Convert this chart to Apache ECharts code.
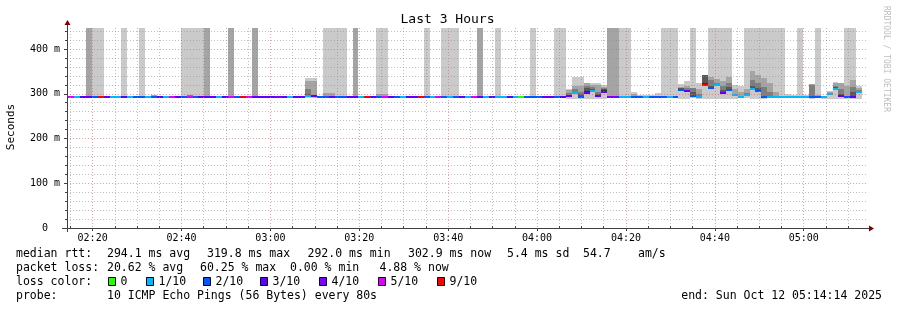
<!DOCTYPE html>
<html><head><meta charset="utf-8">
<script src="https://cdn.jsdelivr.net/npm/echarts@6/dist/echarts.min.js"></script>
<style>html,body{margin:0;padding:0;background:#fff}#c{width:897px;height:310px}</style>
</head><body><div id="c"></div>
<script>
// ---------------- data ----------------
const title = 'Last 3 Hours';
const yAxisName = 'Seconds';
const sideText = 'RRDTOOL / TOBI OETIKER';
const stepSeconds = 80;
const firstStepStart = '02:14:28.5';   // start of first 80s step
const axisStart = '02:14:14';
const axisEnd = '05:14:14';
const xLabelTimes = ['02:20','02:40','03:00','03:20','03:40','04:00','04:20','04:40','05:00'];
const yLabelValues = [0, 100, 200, 300, 400];
const yMax = 447;
const OFF = 1000; // ping above the chart top

const medianRtt = [
 293.0,292.6,292.8,293.1,292.9,293.4,292.7,292.5,292.6,293.0,
 292.4,292.8,292.9,292.3,293.2,293.0,292.4,293.5,292.9,292.7,
 293.6,292.8,293.0,292.9,293.1,292.5,293.0,293.3,292.6,293.8,
 293.2,293.0,292.9,293.0,292.8,293.1,293.0,292.4,293.0,293.2,
 294.5,294.0,292.8,293.0,293.2,292.7,292.6,293.1,293.0,292.5,
 293.9,293.0,292.8,293.4,293.0,292.7,292.5,293.0,293.0,293.8,
 292.8,292.4,293.5,292.9,292.5,292.8,293.0,292.5,293.4,293.0,
 292.5,293.0,292.4,292.5,293.0,292.4,292.2,292.7,292.8,292.6,
 293.0,293.1,292.8,293.0,294.0,302.0,293.0,301.0,307.0,294.5,
 305.0,293.5,292.8,292.3,292.4,293.0,292.8,292.5,292.7,292.8,
 292.9,292.5,292.8,308.0,307.0,294.0,292.5,319.8,312.0,319.0,
 301.0,308.5,296.5,292.5,297.0,311.0,306.0,293.5,292.3,292.2,
 292.2,292.2,292.3,292.2,292.4,292.8,292.6,292.4,299.0,311.0,
 296.0,292.6,292.4,303.0,null];

const lossLevel = [
 5,1,3,3,2,9,3,1,1,3,
 1,2,2,1,2,3,1,5,3,2,
 5,2,3,3,3,1,3,5,2,9,
 5,3,3,3,3,4,3,1,3,3,
 1,3,2,2,3,2,2,3,3,1,
 9,3,2,5,3,2,1,3,3,9,
 2,1,5,2,1,2,3,1,5,3,
 1,3,1,1,3,1,0,2,2,2,
 3,3,2,3,3,1,2,3,1,3,
 3,4,4,1,1,2,2,1,2,2,
 2,1,2,2,3,2,1,9,2,1,
 3,2,1,1,1,1,2,2,1,1,
 1,1,1,1,1,2,2,1,1,1,
 3,2,3,1,null];

const n = null;
// smoke bands: upper edge of each band (lightest -> darkest)
const smoke1 = [
 n,n,n,OFF,OFF,OFF,n,n,n,OFF,
 n,n,OFF,n,n,n,n,n,n,OFF,
 OFF,OFF,OFF,OFF,n,n,n,OFF,n,n,
 n,OFF,n,n,n,n,n,n,n,n,
 335,335,n,OFF,OFF,OFF,OFF,n,OFF,n,
 n,n,OFF,OFF,n,n,n,n,n,n,
 OFF,n,n,OFF,OFF,OFF,n,n,n,OFF,
 n,n,OFF,n,n,n,n,n,OFF,n,
 n,n,OFF,OFF,311,337,337,325,325,325,
 320,OFF,OFF,OFF,OFF,303,297,298,298,301,
 OFF,OFF,OFF,321,328,OFF,323,342,OFF,OFF,
 OFF,OFF,320,318,OFF,OFF,OFF,OFF,OFF,OFF,
 OFF,300,297,OFF,298,321,OFF,296,306,327,
 325,OFF,OFF,318,n];
const smoke2 = [
 n,n,n,OFF,n,n,n,295,295,n,
 n,n,n,n,297,n,n,n,n,n,
 n,n,n,OFF,n,n,296,OFF,n,n,
 n,OFF,n,n,n,n,n,n,295,n,
 328,328,n,302,302,n,n,n,OFF,n,
 n,n,300,300,n,n,295,295,n,n,
 n,n,n,n,n,n,n,n,n,OFF,
 n,n,n,n,n,n,n,295,295,n,
 296,296,n,n,309,317,317,325,320,319,
 316,OFF,OFF,n,n,300,n,n,n,n,
 n,n,n,316,317,n,310,342,338,332,
 329,338,310,305,310,351,342,336,325,305,
 n,n,n,n,n,321,298,n,304,325,
 325,318,331,313,n];
const smoke3 = [
 n,n,n,n,n,n,n,n,n,n,
 n,n,n,n,n,n,n,n,n,n,
 297,n,n,n,n,n,n,n,n,n,
 n,n,n,n,n,n,n,n,n,n,
 310,n,n,n,n,n,n,n,n,n,
 n,n,n,n,n,n,n,n,n,n,
 n,n,n,n,n,n,n,n,n,n,
 n,n,n,n,n,n,n,n,n,n,
 n,n,n,n,302,310,305,318,315,305,
 312,n,n,n,n,n,n,n,n,n,
 n,n,n,313,312,313,300,342,330,325,
 318,325,300,n,302,330,325,315,305,n,
 n,n,n,n,n,319,n,n,n,318,
 310,n,315,308,n];
const smoke4 = [
 n,n,n,n,n,n,n,n,n,n,
 n,n,n,n,n,n,n,n,n,n,
 n,n,n,n,n,n,n,n,n,n,
 n,n,n,n,n,n,n,n,n,n,
 300,n,n,n,n,n,n,n,n,n,
 n,n,n,n,n,n,n,n,n,n,
 n,n,n,n,n,n,n,n,n,n,
 n,n,n,n,n,n,n,n,n,n,
 n,n,n,n,n,305,300,312,310,300,
 310,n,n,n,n,n,n,n,n,n,
 n,n,n,312,309,305,n,342,318,322,
 308,315,n,n,n,318,312,n,n,n,
 n,n,n,n,n,n,n,n,n,315,
 300,n,305,n,n];
const smoke5 = [
 n,n,n,n,n,n,n,n,n,n,
 n,n,n,n,n,n,n,n,n,n,
 n,n,n,n,n,n,n,n,n,n,
 n,n,n,n,n,n,n,n,n,n,
 n,n,n,n,n,n,n,n,n,n,
 n,n,n,n,n,n,n,n,n,n,
 n,n,n,n,n,n,n,n,n,n,
 n,n,n,n,n,n,n,n,n,n,
 n,n,n,n,n,n,n,306,n,n,
 308,n,n,n,n,n,n,n,n,n,
 n,n,n,310,n,n,n,325,n,n,
 n,n,n,n,n,n,n,n,n,n,
 n,n,n,n,n,n,n,n,n,313,
 n,n,n,n,n];
// lower edge of the smoke
const smokeLow = [
 291.5,291.5,291.5,291.5,291.5,291.5,291.5,291.5,291.5,291.5,
 291.5,291.5,291.5,291.5,291.5,291.5,291.5,291.5,291.5,291.5,
 291.5,291.5,291.5,291.5,291.5,291.5,291.5,291.5,291.5,291.5,
 291.5,291.5,291.5,291.5,291.5,291.5,291.5,291.5,291.5,291.5,
 291.0,291.0,291.5,291.5,291.5,291.5,291.5,291.5,291.5,291.5,
 291.5,291.5,291.5,291.5,291.5,291.5,291.5,291.5,291.5,291.5,
 291.5,291.5,291.5,291.5,291.5,291.5,291.5,291.5,291.5,291.5,
 291.5,291.5,291.5,291.5,291.5,291.5,291.5,291.5,291.5,291.5,
 291.5,291.5,291.5,291.5,289,288,288,288,289,288,
 289,291,291,291,291,290,290,290,290,290,
 291,291,291,289,288,290,289,288,288,288,
 288,288,289,290,290,288,288,289,290,290,
 290,290,290,290,290,289,290,289,289,288,
 288,289,289,288,null];

const lossKeys = [0, 1, 2, 3, 4, 5, 9];
const lossLabels = ['0', '1/10', '2/10', '3/10', '4/10', '5/10', '9/10'];
const lossColors = ['#26ff00', '#00b8ff', '#0059ff', '#5e00ff', '#7e00ff', '#dd00ff', '#ff0000'];
const smokeColors = ['#cacaca', '#a4a4a4', '#7e7e7e', '#585858', '#323232'];

const legendRtt = [['median rtt:', 16], ['294.1 ms avg', 107], ['319.8 ms max', 207], ['292.0 ms min', 307.5], ['302.9 ms now', 408], ['5.4 ms sd', 507], ['54.7', 583], ['am/s', 638]];
const legendLoss = [['packet loss:', 16], ['20.62 % avg', 107], ['60.25 % max', 200], ['0.00 % min', 290], ['4.88 % now', 379.5]];
const probeText = '10 ICMP Echo Pings (56 Bytes) every 80s';
const endText = 'end: Sun Oct 12 05:14:14 2025';

// ---------------- helpers ----------------
function toMin(s) { const p = s.split(':').map(Number); return p[0] * 60 + p[1] + (p[2] || 0) / 60; }
function fmt(v) { const h = Math.floor(v / 60), m = Math.round(v - h * 60); return String(h).padStart(2, '0') + ':' + String(m).padStart(2, '0'); }

const G = { left: 67, top: 28, width: 800, height: 200 };
const xMin = toMin(axisStart), xMax = toMin(axisEnd);
const stepMin = stepSeconds / 60, t0 = toMin(firstStepStart);
const majorX = xLabelTimes.map(toMin);
const minorX = []; for (let v = Math.ceil(xMin / 5) * 5; v <= xMax; v += 5) if (majorX.indexOf(v) < 0) minorX.push(v);
const minorY = []; for (let v = 20; v < yMax; v += 20) if (v % 100) minorY.push(v);

const data = medianRtt.map((m, k) => [t0 + k * stepMin, t0 + (k + 1) * stepMin, m, lossLevel[k],
  smoke1[k], smoke2[k], smoke3[k], smoke4[k], smoke5[k], smokeLow[k]]);

function num(v) { return (v === null || v === undefined || isNaN(v)) ? NaN : +v; }

function renderStep(params, api) {
  const cs = params.coordSys;
  const a = api.value(0), b = api.value(1);
  let xa = Math.round(api.coord([a, 0])[0]), xb = Math.round(api.coord([b, 0])[0]);
  xa = Math.max(xa, cs.x); xb = Math.min(xb, cs.x + cs.width);
  if (xb <= xa) return;
  const med = num(api.value(2));
  if (isNaN(med)) return;
  const yOf = v => Math.round(api.coord([a, Math.min(v, yMax)])[1]);
  const kids = [];
  const low = num(api.value(9));
  for (let i = 0; i < 5; i++) {
    const top = num(api.value(4 + i));
    if (isNaN(top)) continue;
    const base = i === 0 ? low : med;
    const y1 = yOf(top), y0 = yOf(base);
    kids.push({ type: 'rect', shape: { x: xa, y: y1, width: xb - xa, height: y0 - y1 }, style: { fill: smokeColors[i] } });
  }
  const lc = lossColors[lossKeys.indexOf(api.value(3))] || '#000';
  const ym = yOf(med);
  kids.push({ type: 'rect', shape: { x: xa, y: ym - 1, width: xb - xa, height: 2 }, style: { fill: lc } });
  return { type: 'group', children: kids };
}

const FONT = '"DejaVu Sans Mono", monospace';
const gridMinor = { show: true, lineStyle: { color: 'rgba(140,140,140,0.55)', width: 1, type: [1, 2] } };
const gridMajor = { show: true, lineStyle: { color: 'rgba(225,100,100,0.6)', width: 1, type: [1, 2] } };

const gfx = [];
// axis lines + arrows
const x0 = G.left, yb = G.top + G.height, xr = G.left + G.width;
gfx.push({ type: 'line', shape: { x1: x0 - 5, y1: yb + 0.5, x2: xr + 2, y2: yb + 0.5 }, style: { stroke: '#404040', lineWidth: 1 }, z: 50 });
gfx.push({ type: 'line', shape: { x1: x0 + 0.5, y1: yb + 4, x2: x0 + 0.5, y2: G.top - 3 }, style: { stroke: '#404040', lineWidth: 1 }, z: 50 });
gfx.push({ type: 'polygon', shape: { points: [[xr + 2, yb - 2.5], [xr + 7, yb + 0.5], [xr + 2, yb + 3.5]] }, style: { fill: '#800000' }, z: 50 });
gfx.push({ type: 'polygon', shape: { points: [[x0 - 2.5, G.top - 3], [x0 + 0.5, G.top - 8], [x0 + 3.5, G.top - 3]] }, style: { fill: '#800000' }, z: 50 });
// title and side texts
gfx.push({ type: 'text', x: 447.5, y: 20, style: { text: title, font: '13px ' + FONT, fill: '#000', align: 'center', verticalAlign: 'middle' } });
gfx.push({ type: 'text', x: 11, y: 127, rotation: Math.PI / 2, style: { text: yAxisName, font: '11px ' + FONT, fill: '#000', align: 'center', verticalAlign: 'middle' } });
gfx.push({ type: 'text', x: 886, y: 59, rotation: -Math.PI / 2, style: { text: sideText, font: '8px ' + FONT, fill: '#bdbdbd', align: 'center', verticalAlign: 'middle' } });
// legend
const LF = '11.5px ' + FONT;
legendRtt.forEach(([t, x]) => gfx.push({ type: 'text', x: x, y: 254, style: { text: t, font: LF, fill: '#000', verticalAlign: 'middle' } }));
legendLoss.forEach(([t, x]) => gfx.push({ type: 'text', x: x, y: 268, style: { text: t, font: LF, fill: '#000', verticalAlign: 'middle' } }));
gfx.push({ type: 'text', x: 16, y: 282, style: { text: 'loss color:', font: LF, fill: '#000', verticalAlign: 'middle' } });
const swatchX = [108, 146, 203, 260, 319, 378, 437];
lossLabels.forEach((t, i) => {
  gfx.push({ type: 'rect', shape: { x: swatchX[i] + 0.5, y: 277.5, width: 7, height: 8 }, style: { fill: lossColors[i], stroke: '#000', lineWidth: 1 } });
  gfx.push({ type: 'text', x: swatchX[i] + 12.5, y: 282, style: { text: t, font: LF, fill: '#000', verticalAlign: 'middle' } });
});
gfx.push({ type: 'text', x: 16, y: 296, style: { text: 'probe:', font: LF, fill: '#000', verticalAlign: 'middle' } });
gfx.push({ type: 'text', x: 107, y: 296, style: { text: probeText, font: LF, fill: '#000', verticalAlign: 'middle' } });
gfx.push({ type: 'text', x: 882, y: 296, style: { text: endText, font: LF, fill: '#000', align: 'right', verticalAlign: 'middle' } });

const chart = echarts.init(document.getElementById('c'), null, { renderer: 'canvas' });
chart.setOption({
  animation: false,
  backgroundColor: '#fff',
  grid: { left: G.left, top: G.top, width: G.width, height: G.height, containLabel: false },
  xAxis: [
    { type: 'value', min: xMin, max: xMax, z: 10,
      axisLine: { show: false },
      axisTick: { show: true, customValues: majorX, length: 3, lineStyle: { color: '#404040' } },
      axisLabel: { customValues: majorX, formatter: fmt, margin: 5, fontSize: 10, fontFamily: FONT, color: '#000' },
      splitLine: gridMajor },
    { type: 'value', min: xMin, max: xMax, z: 9,
      axisLine: { show: false },
      axisTick: { show: true, customValues: minorX, length: 2, lineStyle: { color: '#404040' } },
      axisLabel: { show: false },
      splitLine: gridMinor }
  ],
  yAxis: [
    { type: 'value', min: 0, max: yMax, z: 10,
      axisLine: { show: false },
      axisTick: { show: true, customValues: yLabelValues, length: 3, lineStyle: { color: '#404040' } },
      axisLabel: { customValues: yLabelValues, formatter: v => v === 0 ? '0  ' : v + ' m', margin: 7, fontSize: 10, fontFamily: FONT, color: '#000' },
      splitLine: gridMajor },
    { type: 'value', min: 0, max: yMax, z: 9, position: 'left',
      axisLine: { show: false },
      axisTick: { show: true, customValues: minorY, length: 2, lineStyle: { color: '#404040' } },
      axisLabel: { show: false },
      splitLine: gridMinor }
  ],
  series: [{
    type: 'custom', z: 2, clip: true, xAxisIndex: 0, yAxisIndex: 0,
    renderItem: renderStep,
    encode: { x: [0, 1], y: 2 },
    data: data
  }],
  graphic: gfx
});
</script></body></html>
